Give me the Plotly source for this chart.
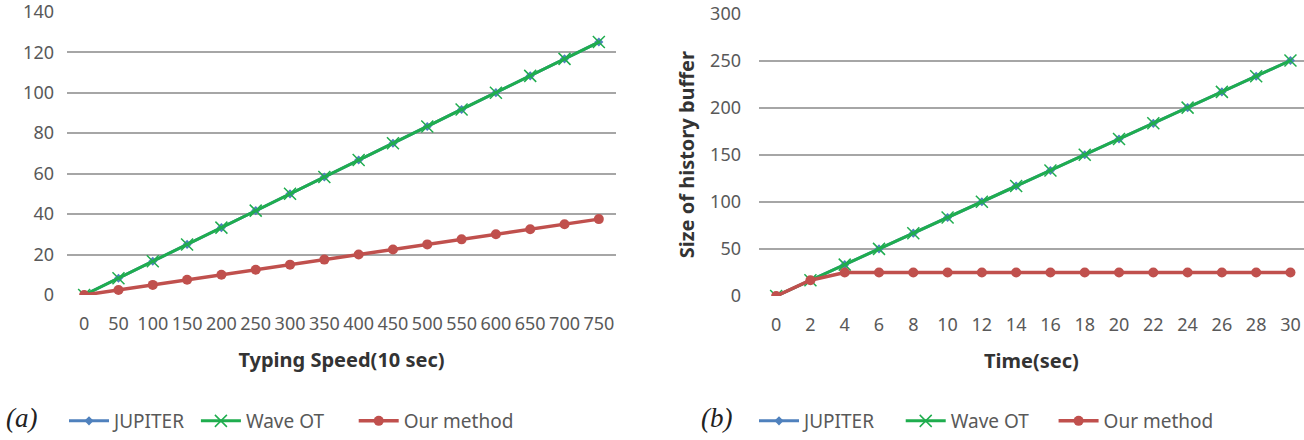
import plotly.graph_objects as go

# ---- data ----
speed = [0, 50, 100, 150, 200, 250, 300, 350, 400, 450, 500, 550, 600, 650, 700, 750]
jupiter_a = [0, 8.3, 16.7, 25, 33.3, 41.7, 50, 58.3, 66.7, 75, 83.3, 91.7, 100, 108.3, 116.7, 125]
waveot_a = [0, 8.3, 16.7, 25, 33.3, 41.7, 50, 58.3, 66.7, 75, 83.3, 91.7, 100, 108.3, 116.7, 125]
ours_a = [0, 2.5, 5, 7.5, 10, 12.5, 15, 17.5, 20, 22.5, 25, 27.5, 30, 32.5, 35, 37.5]

time_s = [0, 2, 4, 6, 8, 10, 12, 14, 16, 18, 20, 22, 24, 26, 28, 30]
jupiter_b = [0, 16.7, 33.3, 50, 66.7, 83.3, 100, 116.7, 133.3, 150, 166.7, 183.3, 200, 216.7, 233.3, 250]
waveot_b = [0, 16.7, 33.3, 50, 66.7, 83.3, 100, 116.7, 133.3, 150, 166.7, 183.3, 200, 216.7, 233.3, 250]
ours_b = [0, 16.7, 25, 25, 25, 25, 25, 25, 25, 25, 25, 25, 25, 25, 25, 25]

yticks_a = [0, 20, 40, 60, 80, 100, 120, 140]
yticks_b = [0, 50, 100, 150, 200, 250, 300]

series_names = ["JUPITER", "Wave OT", "Our method"]
y_title = "Size of history buffer"

BLUE = "#4f81bd"
GREEN = "#1fad4e"
RED = "#c0504d"
GRID = "#a6a6a6"
TXT = "#595959"
FONT = "Noto Sans"

fig = go.Figure()

NBSP = "\u00a0"

def add_panel(x, jup, wav, our, xa, ya, leg, pads):
    names = [n + NBSP * p for n, p in zip(series_names, pads)]
    fig.add_trace(go.Scatter(x=x, y=jup, name=names[0], mode="lines+markers",
                             line=dict(color=BLUE, width=3),
                             marker=dict(symbol="diamond", size=7, color=BLUE),
                             xaxis=xa, yaxis=ya, legend=leg))
    fig.add_trace(go.Scatter(x=x, y=wav, name=names[1], mode="lines+markers",
                             line=dict(color=GREEN, width=3),
                             marker=dict(symbol="x-thin", size=12, color=GREEN,
                                         line=dict(color=GREEN, width=1.5)),
                             xaxis=xa, yaxis=ya, legend=leg))
    fig.add_trace(go.Scatter(x=x, y=our, name=names[2], mode="lines+markers",
                             line=dict(color=RED, width=3.5),
                             marker=dict(symbol="circle", size=10, color=RED),
                             xaxis=xa, yaxis=ya, legend=leg))

add_panel(speed, jupiter_a, waveot_a, ours_a, "x", "y", "legend", (1, 5, 0))
add_panel(time_s, jupiter_b, waveot_b, ours_b, "x2", "y2", "legend2", (4, 4, 0))

tickfont = dict(family=FONT, size=18, color=TXT)
titlefont = dict(family=FONT, size=20, color="#333333", weight="bold")
legfont = dict(family=FONT, size=19, color=TXT)

fig.update_layout(
    width=1304, height=440,
    margin=dict(l=0, r=0, t=0, b=0, autoexpand=False),
    paper_bgcolor="white", plot_bgcolor="white",
    font=dict(family=FONT, size=18, color=TXT),
    xaxis=dict(domain=[67/1304, 616/1304], range=[-25, 775], tickvals=speed,
               ticktext=[str(v) for v in speed], tickangle=0, showgrid=False, zeroline=False,
               showline=False, ticks="", tickfont=tickfont, ticklabelstandoff=16,
               ticklabeloverflow="allow",
               title=dict(text="Typing Speed(10 sec)", font=titlefont, standoff=18),
               anchor="y", automargin=False),
    yaxis=dict(domain=[(440-295)/440, (440-11.7)/440], range=[0, 140.01],
               tickvals=yticks_a, ticklabeloverflow="allow",
               showgrid=True, gridcolor=GRID, gridwidth=1.5, zeroline=False,
               showline=False, ticks="", tickfont=tickfont, ticklabelstandoff=12,
               anchor="x", automargin=False),
    xaxis2=dict(domain=[759/1304, 1.0], range=[-1, 30.79], tickvals=time_s,
                ticktext=[str(v) for v in time_s], tickangle=0, showgrid=False, zeroline=False,
                showline=False, ticks="", tickfont=tickfont, ticklabelstandoff=16,
                ticklabeloverflow="allow",
                title=dict(text="Time(sec)", font=titlefont, standoff=18),
                anchor="y2", automargin=False),
    yaxis2=dict(domain=[(440-296)/440, (440-13.4)/440], range=[0, 300.01],
                tickvals=yticks_b, ticklabeloverflow="allow",
                showgrid=True, gridcolor=GRID, gridwidth=1.5, zeroline=False,
                showline=False, ticks="", tickfont=tickfont, ticklabelstandoff=17,
                title=dict(text=y_title, font=titlefont, standoff=10),
                anchor="x2", automargin=False),
    legend=dict(orientation="h", x=64/1304, y=(440-421)/440, xanchor="left", yanchor="middle",
                font=legfont, bgcolor="rgba(0,0,0,0)",
                traceorder="normal", itemwidth=40),
    legend2=dict(orientation="h", x=754/1304, y=(440-421)/440, xanchor="left", yanchor="middle",
                 font=legfont, bgcolor="rgba(0,0,0,0)",
                 traceorder="normal", itemwidth=40),
    showlegend=True,
)

fig.add_annotation(text="<i>(a)</i>", xref="paper", yref="paper", x=4/1304, y=(440-418)/440,
                   xanchor="left", yanchor="middle", showarrow=False,
                   font=dict(family="Liberation Serif", size=27, color="#222222"))
fig.add_annotation(text="<i>(b)</i>", xref="paper", yref="paper", x=699/1304, y=(440-418)/440,
                   xanchor="left", yanchor="middle", showarrow=False,
                   font=dict(family="Liberation Serif", size=27, color="#222222"))

fig.write_html("out.html")
